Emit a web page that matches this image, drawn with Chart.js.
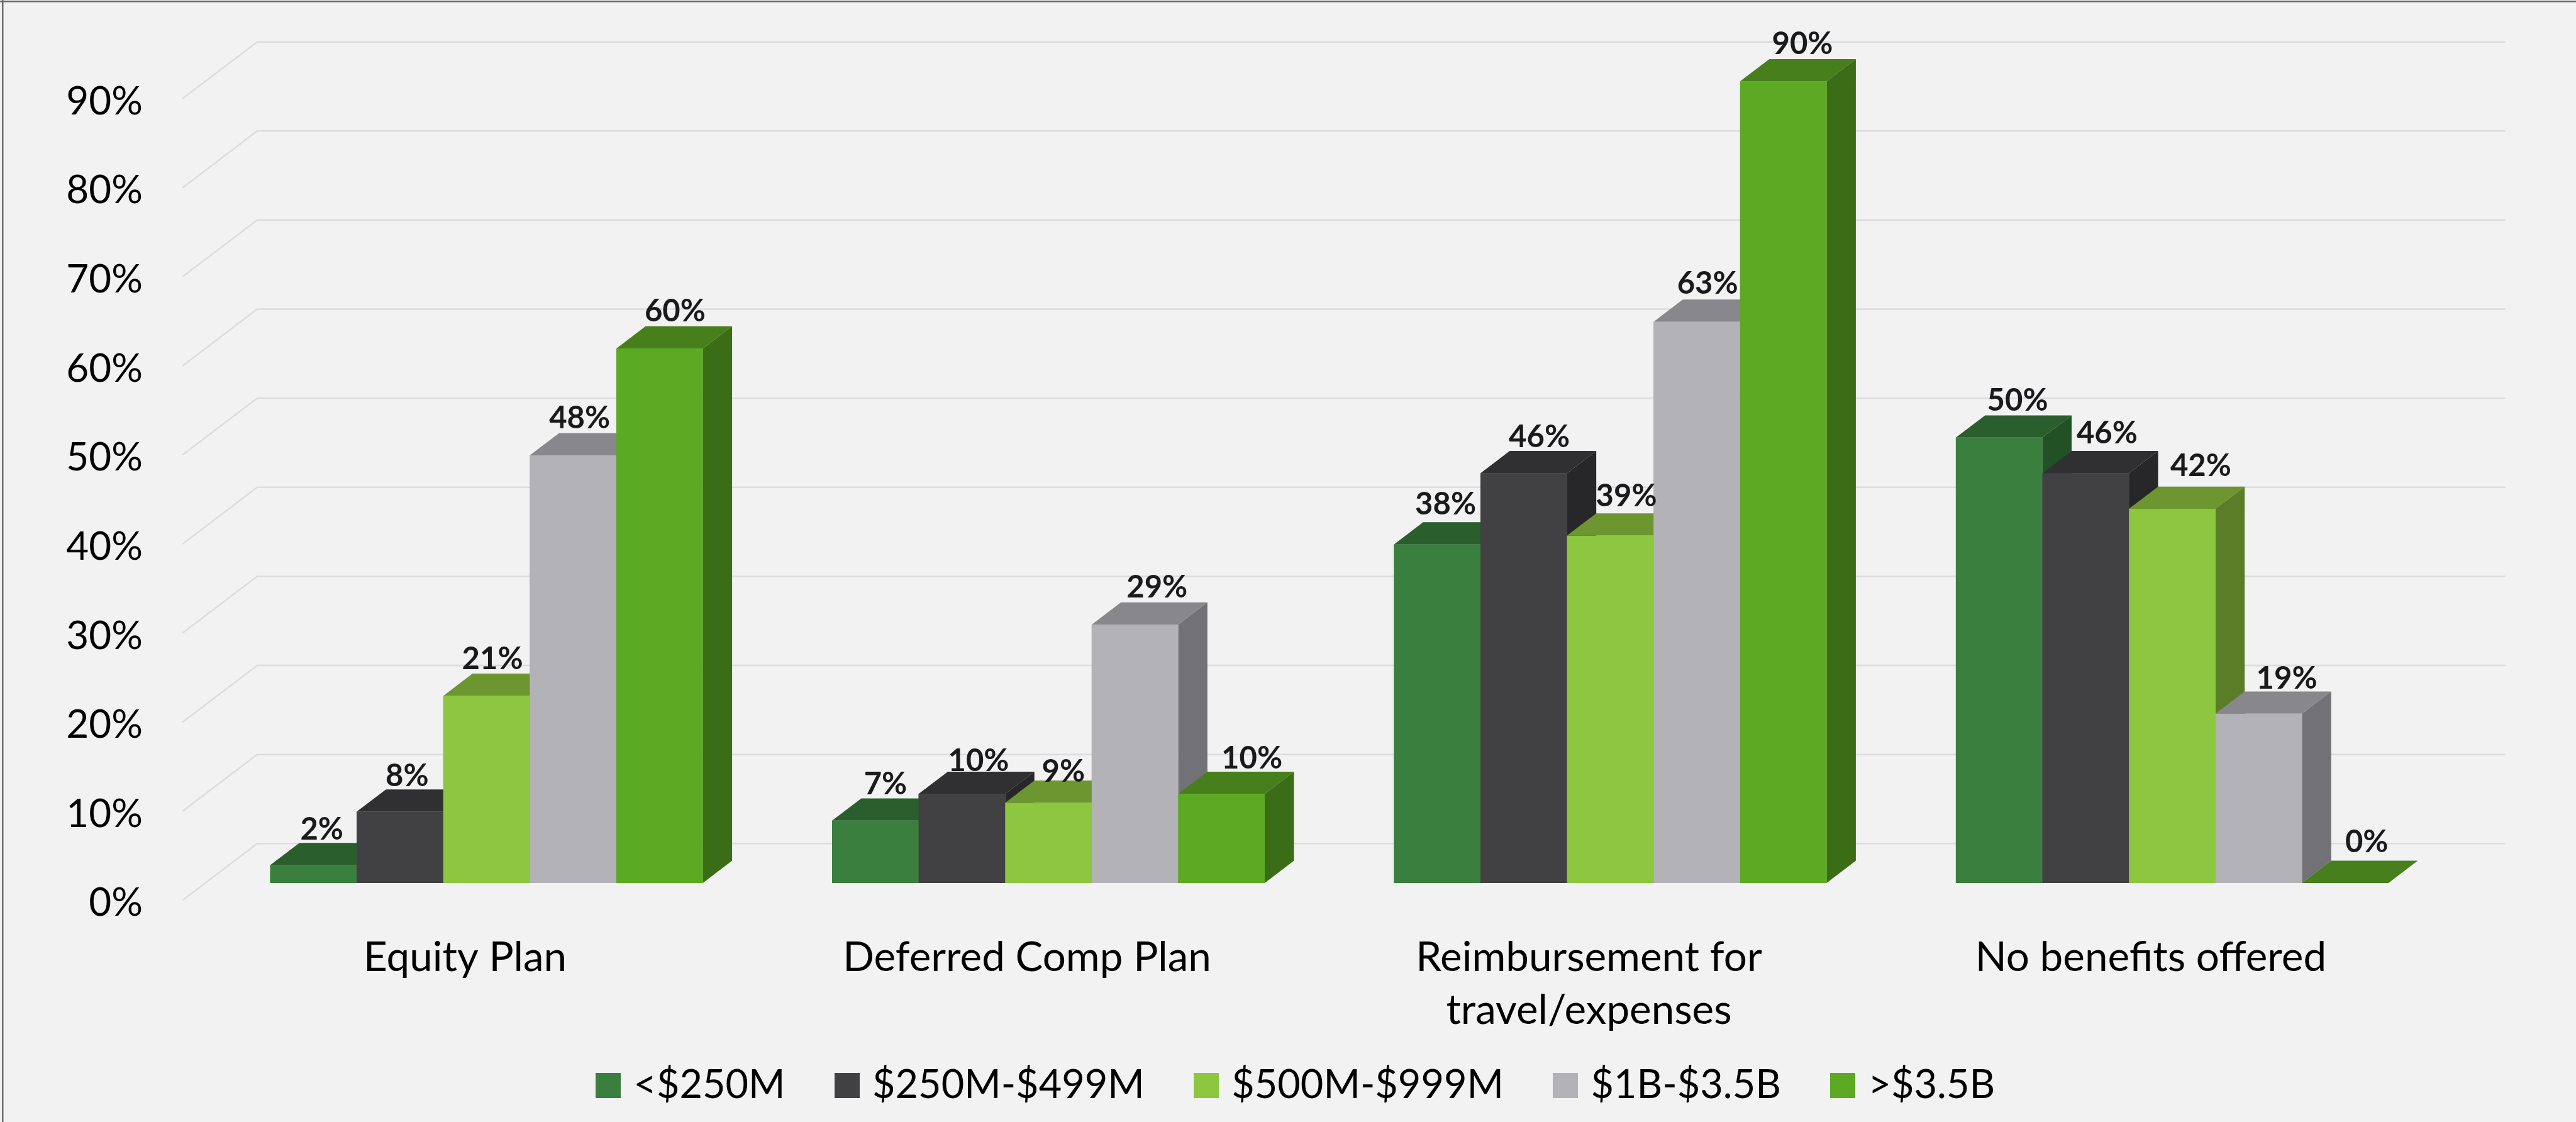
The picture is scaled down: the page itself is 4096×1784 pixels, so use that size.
<!DOCTYPE html>
<html>
<head>
<meta charset="utf-8">
<title>Benefits offered by company revenue</title>
<script src="https://cdn.jsdelivr.net/npm/chart.js@4/dist/chart.umd.min.js"></script>
<style>
    html, body { margin: 0; padding: 0; background: #f2f2f2; overflow: hidden; }
    canvas { display: block; }
</style>
</head>
<body>
<canvas id="benefitsChart" width="4096" height="1784"></canvas>
<script>
const categories = ['Equity Plan', 'Deferred Comp Plan', ['Reimbursement for', 'travel/expenses'], 'No benefits offered'];
const seriesNames = ['<$250M', '$250M-$499M', '$500M-$999M', '$1B-$3.5B', '>$3.5B'];
const under250M = [2, 7, 38, 50];
const from250To499M = [8, 10, 46, 46];
const from500To999M = [21, 9, 39, 42];
const from1BTo3_5B = [48, 29, 63, 19];
const over3_5B = [60, 10, 90, 0];
const yTicks = [0, 10, 20, 30, 40, 50, 60, 70, 80, 90];

// face colours per series: front, top, right side
const frontColors = ['#3a7f3e', '#414042', '#8dc63f', '#b3b2b7', '#5caa24'];
const topColors = ['#2b5e2d', '#303032', '#6d9631', '#88878c', '#467f1c'];
const sideColors = ['#225125', '#272729', '#5b7d28', '#727175', '#3b6d16'];

const k = 4096 / 4318;
const depthX = 49 * k;
const depthY = 37.3 * k;

// how far each value label sits from its bar: [right of bar centre, above back edge]
const labelOffsets = [
    [[14, 6], [17, 7], [14, 13], [31, 8]],
    [[12, 6], [28, 1], [26, 6], [36, 13]],
    [[10, 7], [25, -2], [27, 12], [48, 18]],
    [[11, 8], [37, 8], [18, 10], [47, 5]],
    [[26, 8], [51, 5], [32, 8], [36, 14]]
];

function fillPoly(ctx, color, points) {
    ctx.fillStyle = color;
    ctx.beginPath();
    ctx.moveTo(points[0][0], points[0][1]);
    points.slice(1).forEach(p => ctx.lineTo(p[0], p[1]));
    ctx.closePath();
    ctx.fill();
}

// small square used as the legend marker, so the text can sit closer to it
function legendSquare(color) {
    const square = document.createElement('canvas');
    square.width = 40;
    square.height = 40;
    const c = square.getContext('2d');
    c.fillStyle = color;
    c.fillRect(0, 0, 40, 40);
    return square;
}

// page background and the frame on the top and left edges
const backdrop = {
    id: 'backdrop',
    beforeDraw(chart) {
        const ctx = chart.ctx;
        ctx.save();
        ctx.fillStyle = '#f2f2f2';
        ctx.fillRect(0, 0, chart.width, chart.height);
        ctx.fillStyle = '#6a6a6a';
        ctx.fillRect(0, 1, chart.width, 2.5);
        ctx.fillRect(3, 0, 2.5, chart.height);
        ctx.restore();
    }
};

// back wall gridlines with their slanted run down to the tick labels
const wallGrid = {
    id: 'wallGrid',
    beforeDatasetsDraw(chart) {
        const ctx = chart.ctx;
        const xs = chart.scales.x;
        const ys = chart.scales.y;
        ctx.save();
        ctx.strokeStyle = '#dcdce0';
        ctx.lineWidth = 2.5;
        yTicks.forEach(v => {
            const y = ys.getPixelForValue(v);
            ctx.beginPath();
            ctx.moveTo(xs.left - 36.6, y + 27.5);
            ctx.lineTo(xs.left + 82, y - 62.6);
            ctx.lineTo(xs.right + 83.4, y - 62.6);
            ctx.stroke();
        });
        ctx.restore();
    }
};

// extruded bars painted left to right so each one covers its neighbour's side
const bars3d = {
    id: 'bars3d',
    afterDatasetsDraw(chart) {
        const ctx = chart.ctx;
        ctx.save();
        chart.data.datasets.forEach((ds, i) => {
            chart.getDatasetMeta(i).data.forEach(bar => {
                const left = bar.x - bar.width / 2;
                const right = bar.x + bar.width / 2;
                const top = bar.y;
                const base = bar.base;
                fillPoly(ctx, topColors[i], [[left, top], [right, top], [right + depthX, top - depthY], [left + depthX, top - depthY]]);
                if (base - top > 0.5) {
                    fillPoly(ctx, sideColors[i], [[right, top], [right + depthX, top - depthY], [right + depthX, base - depthY], [right, base]]);
                    ctx.fillStyle = frontColors[i];
                    ctx.fillRect(left, top, bar.width, base - top);
                }
            });
        });
        ctx.restore();

        ctx.save();
        ctx.font = 'bold 49px Lato';
        ctx.fillStyle = '#1a1a1c';
        ctx.textAlign = 'center';
        ctx.textBaseline = 'alphabetic';
        chart.data.datasets.forEach((ds, i) => {
            chart.getDatasetMeta(i).data.forEach((bar, j) => {
                const off = labelOffsets[i][j];
                ctx.fillText(ds.data[j] + '%', bar.x + off[0] * k, bar.y - depthY - off[1] * k);
            });
        });
        ctx.restore();
    }
};

// settles the legend row and lets the two-line category label run past the axis box
const placeBoxes = {
    id: 'placeBoxes',
    afterLayout(chart) {
        const legend = chart.legend;
        const dx = 2065.5 - (legend.left + legend.right) / 2;
        legend.left += dx;
        legend.right += dx;
        legend.top = 1604;
        chart.scales.x.bottom = chart.height;
    }
};

const datasets = [under250M, from250To499M, from500To999M, from1BTo3_5B, over3_5B].map((values, i) => ({
    label: seriesNames[i],
    data: values,
    backgroundColor: frontColors[i],
    borderWidth: 0,
    categoryPercentage: 0.77,
    barPercentage: 1
}));

Chart.defaults.font.family = 'Lato';
Chart.defaults.color = '#000000';

new Chart(document.getElementById('benefitsChart'), {
    type: 'bar',
    data: { labels: categories, datasets: datasets },
    plugins: [backdrop, wallGrid, bars3d, placeBoxes],
    options: {
        responsive: false,
        animation: false,
        devicePixelRatio: 1,
        layout: { padding: { top: 129.3, left: 0, right: 195.4, bottom: 0 } },
        plugins: {
            tooltip: { enabled: false },
            legend: {
                position: 'bottom',
                labels: {
                    usePointStyle: true,
                    pointStyleWidth: 17,
                    boxHeight: 40,
                    padding: 90,
                    font: { size: 63 },
                    generateLabels(chart) {
                        return Chart.defaults.plugins.legend.labels.generateLabels(chart).map((item, i) => {
                            item.pointStyle = legendSquare(frontColors[i]);
                            return item;
                        });
                    }
                }
            }
        },
        scales: {
            x: {
                grid: { display: false, drawTicks: false },
                border: { display: false },
                ticks: {
                    autoSkip: false,
                    maxRotation: 0,
                    minRotation: 0,
                    padding: 77,
                    labelOffset: -34,
                    font: { size: 65.5, lineHeight: 1.28 }
                },
                afterFit(scale) {
                    scale.height = 217.1;
                    scale.paddingLeft = 0;
                    scale.paddingRight = 0;
                }
            },
            y: {
                min: 0,
                max: 90,
                grid: { display: false, drawTicks: false },
                border: { display: false },
                ticks: {
                    stepSize: 10,
                    padding: 100,
                    labelOffset: 32.5,
                    font: { size: 62 },
                    callback: v => v + '%'
                },
                afterFit(scale) {
                    scale.width = 326.9;
                    scale.paddingTop = 0;
                    scale.paddingBottom = 0;
                }
            }
        }
    }
});
</script>
</body>
</html>
